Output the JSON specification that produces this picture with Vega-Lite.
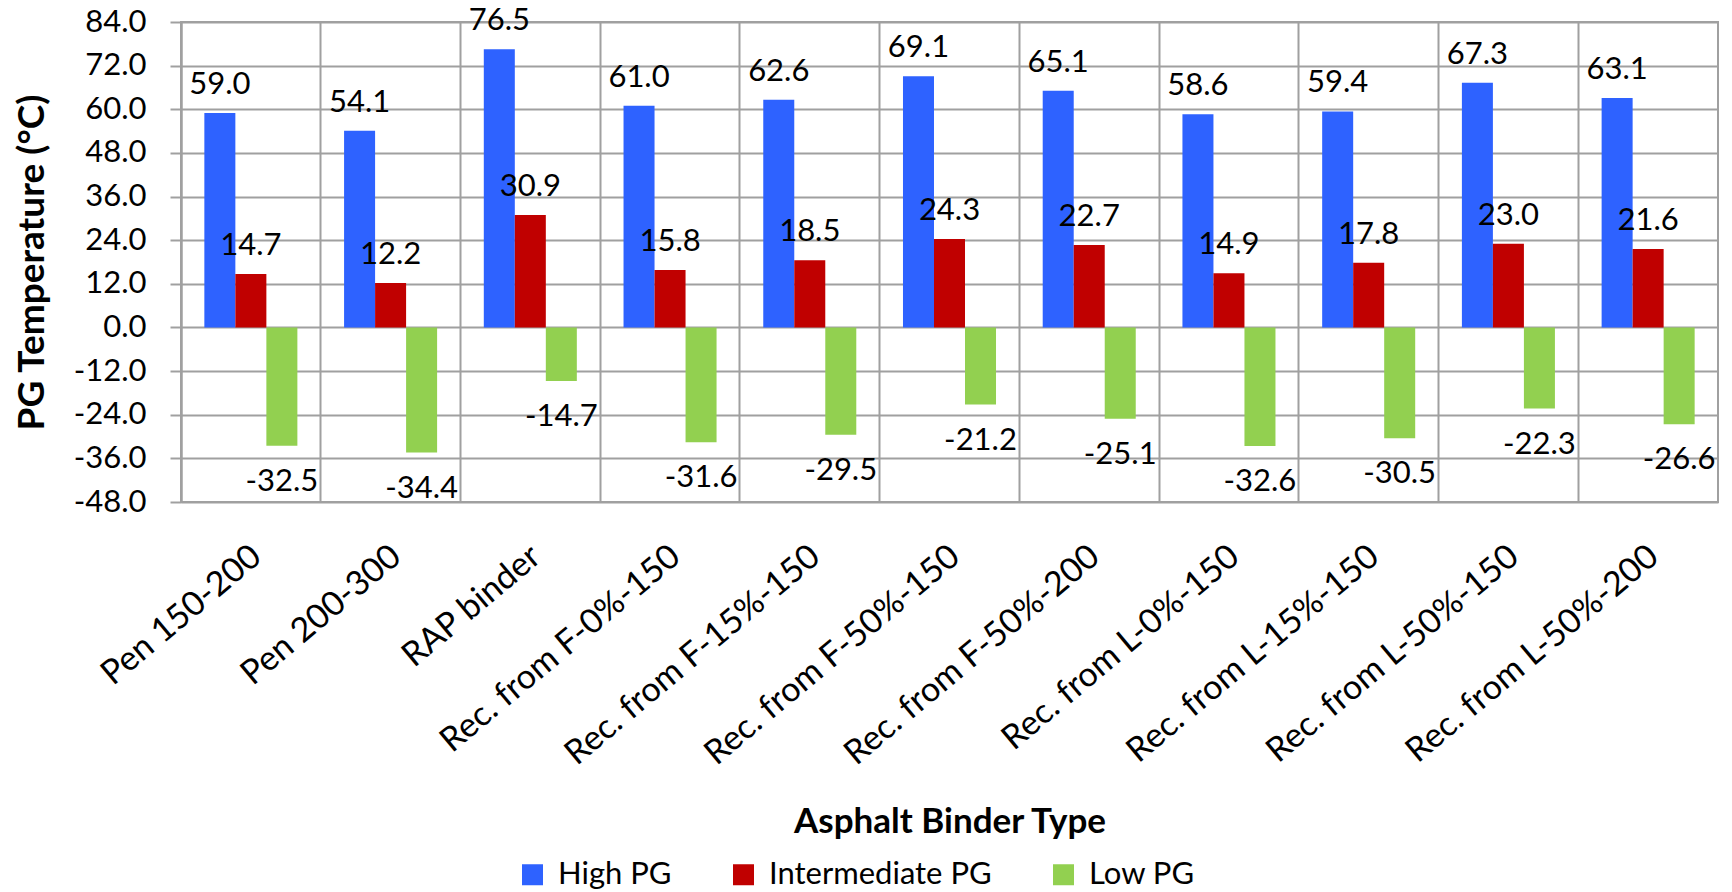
{
  "$schema": "https://vega.github.io/schema/vega-lite/v6.json",
  "width": 1537,
  "height": 480,
  "autosize": {"type": "none"},
  "padding": {"left": 181, "top": 22, "right": 14, "bottom": 390},
  "config": {
    "font": "Lato",
    "view": {"stroke": "#A0A0A0", "strokeWidth": 2},
    "locale": {"number": {"decimal": ".", "thousands": ",", "grouping": [3], "currency": ["$", ""], "minus": "-"}}
  },
  "data": {"values": [
    {"binder": "Pen 150-200", "pg": "High PG", "value": 59.0},
    {"binder": "Pen 150-200", "pg": "Intermediate PG", "value": 14.7},
    {"binder": "Pen 150-200", "pg": "Low PG", "value": -32.5},
    {"binder": "Pen 200-300", "pg": "High PG", "value": 54.1},
    {"binder": "Pen 200-300", "pg": "Intermediate PG", "value": 12.2},
    {"binder": "Pen 200-300", "pg": "Low PG", "value": -34.4},
    {"binder": "RAP binder", "pg": "High PG", "value": 76.5},
    {"binder": "RAP binder", "pg": "Intermediate PG", "value": 30.9},
    {"binder": "RAP binder", "pg": "Low PG", "value": -14.7},
    {"binder": "Rec. from F-0%-150", "pg": "High PG", "value": 61.0},
    {"binder": "Rec. from F-0%-150", "pg": "Intermediate PG", "value": 15.8},
    {"binder": "Rec. from F-0%-150", "pg": "Low PG", "value": -31.6},
    {"binder": "Rec. from F-15%-150", "pg": "High PG", "value": 62.6},
    {"binder": "Rec. from F-15%-150", "pg": "Intermediate PG", "value": 18.5},
    {"binder": "Rec. from F-15%-150", "pg": "Low PG", "value": -29.5},
    {"binder": "Rec. from F-50%-150", "pg": "High PG", "value": 69.1},
    {"binder": "Rec. from F-50%-150", "pg": "Intermediate PG", "value": 24.3},
    {"binder": "Rec. from F-50%-150", "pg": "Low PG", "value": -21.2},
    {"binder": "Rec. from F-50%-200", "pg": "High PG", "value": 65.1},
    {"binder": "Rec. from F-50%-200", "pg": "Intermediate PG", "value": 22.7},
    {"binder": "Rec. from F-50%-200", "pg": "Low PG", "value": -25.1},
    {"binder": "Rec. from L-0%-150", "pg": "High PG", "value": 58.6},
    {"binder": "Rec. from L-0%-150", "pg": "Intermediate PG", "value": 14.9},
    {"binder": "Rec. from L-0%-150", "pg": "Low PG", "value": -32.6},
    {"binder": "Rec. from L-15%-150", "pg": "High PG", "value": 59.4},
    {"binder": "Rec. from L-15%-150", "pg": "Intermediate PG", "value": 17.8},
    {"binder": "Rec. from L-15%-150", "pg": "Low PG", "value": -30.5},
    {"binder": "Rec. from L-50%-150", "pg": "High PG", "value": 67.3},
    {"binder": "Rec. from L-50%-150", "pg": "Intermediate PG", "value": 23.0},
    {"binder": "Rec. from L-50%-150", "pg": "Low PG", "value": -22.3},
    {"binder": "Rec. from L-50%-200", "pg": "High PG", "value": 63.1},
    {"binder": "Rec. from L-50%-200", "pg": "Intermediate PG", "value": 21.6},
    {"binder": "Rec. from L-50%-200", "pg": "Low PG", "value": -26.6}
  ]},
  "encoding": {
    "x": {
      "field": "binder", "type": "nominal",
      "sort": ["Pen 150-200", "Pen 200-300", "RAP binder", "Rec. from F-0%-150", "Rec. from F-15%-150", "Rec. from F-50%-150", "Rec. from F-50%-200", "Rec. from L-0%-150", "Rec. from L-15%-150", "Rec. from L-50%-150", "Rec. from L-50%-200"],
      "scale": {"paddingInner": 0, "paddingOuter": 0},
      "axis": {
        "bandPosition": 0, "grid": true, "gridColor": "#A0A0A0", "gridWidth": 2,
        "ticks": false, "domain": false,
        "labelAngle": -40, "labelAlign": "right", "labelBaseline": "middle",
        "labelOffset": 6, "labelPadding": 50, "labelFontSize": 34, "labelColor": "#000000", "labelLimit": 0,
        "title": "Asphalt Binder Type", "titleFontSize": 35, "titleFontWeight": "bold", "titleColor": "#000000",
        "titleY": 319, "titleBaseline": "middle"
      }
    },
    "y": {
      "field": "value", "type": "quantitative",
      "scale": {"domain": [-48, 84], "nice": false, "zero": false},
      "axis": {
        "values": [-48, -36, -24, -12, 0, 12, 24, 36, 48, 60, 72, 84],
        "format": ".1f", "grid": true, "gridColor": "#A0A0A0", "gridWidth": 2,
        "domain": true, "domainColor": "#A0A0A0", "domainWidth": 2,
        "tickColor": "#A0A0A0", "tickWidth": 2, "tickSize": 11,
        "labelFontSize": 31, "labelColor": "#000000", "labelPadding": 24,
        "title": "PG Temperature (°C)", "titleFontSize": 37, "titleFontWeight": "bold", "titleColor": "#000000",
        "titlePadding": 22
      }
    },
    "xOffset": {
      "field": "pg", "type": "nominal",
      "sort": ["High PG", "Intermediate PG", "Low PG"],
      "scale": {"paddingInner": 0, "paddingOuter": 0.753}
    }
  },
  "layer": [
    {
      "mark": {"type": "bar"},
      "encoding": {
        "color": {
          "field": "pg", "type": "nominal",
          "sort": ["High PG", "Intermediate PG", "Low PG"],
          "scale": {"domain": ["High PG", "Intermediate PG", "Low PG"], "range": ["#2E62FF", "#C00000", "#92D050"]},
          "legend": {
            "orient": "none", "legendX": 336, "legendY": 837, "direction": "horizontal",
            "title": null, "symbolType": "square", "symbolSize": 441,
            "symbolStrokeWidth": 0, "labelFontSize": 31, "labelColor": "#000000", "labelLimit": 0,
            "columnPadding": 56, "labelOffset": 10
          }
        }
      }
    },
    {
      "transform": [{"filter": "datum.value >= 0"}],
      "mark": {"type": "text", "baseline": "alphabetic", "dy": -19, "fontSize": 31, "color": "#000000"},
      "encoding": {"text": {"field": "value", "type": "quantitative", "format": ".1f"}}
    },
    {
      "transform": [{"filter": "datum.value < 0"}],
      "mark": {"type": "text", "baseline": "top", "dy": 21, "fontSize": 31, "color": "#000000"},
      "encoding": {"text": {"field": "value", "type": "quantitative", "format": ".1f"}}
    }
  ]
}
